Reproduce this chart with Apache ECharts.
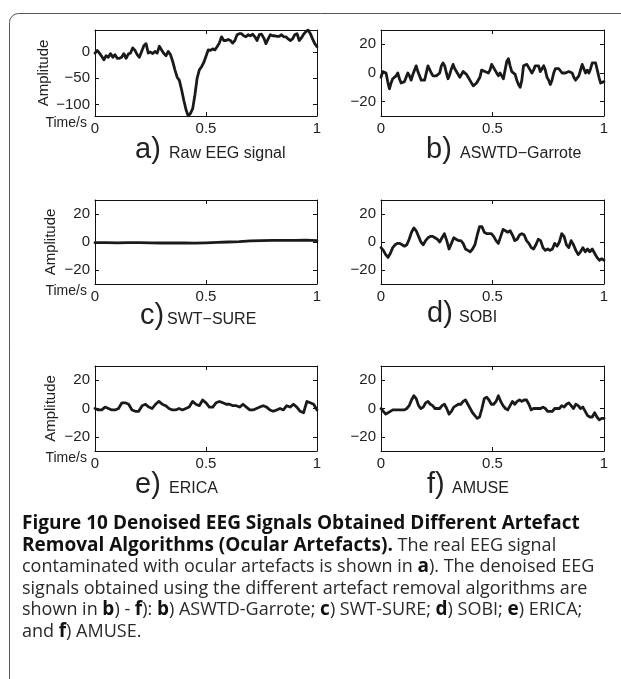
<!DOCTYPE html>
<html>
<head>
<meta charset="utf-8">
<script src="https://cdn.jsdelivr.net/npm/echarts@6/dist/echarts.min.js"></script>
<style>
  html, body { margin: 0; padding: 0; background: #ffffff; }
  #chart { width: 621px; height: 679px; }
</style>
</head>
<body>
<div id="chart"></div>
<script>
// ---- Signals (amplitude, one second, evenly sampled) ----
const rawEEG = [
  -2, 3, -2, -8, -15, -7, -10, -3, -10, -5,
  -12, -12, -10, -3, -12, -4, -2, 8, 3, -5,
  -10, 1, 12, 16, -2, 0, -3, 1, -2, 11,
  4, -3, -7, 1, -5, -18, -34, -48, -54, -72,
  -92, -110, -122, -117, -108, -82, -50, -34, -28, -20,
  -8, 4, 3, 6, 4, 10, 17, 29, 22, 22,
  24, 22, 17, 22, 33, 35, 35, 31, 29, 33,
  31, 34, 29, 22, 33, 34, 27, 16, 25, 33,
  31, 31, 30, 30, 33, 29, 29, 25, 22, 25,
  33, 35, 22, 27, 34, 39, 42, 35, 25, 16,
  10
];
const aswtdGarrote = [
  -3, 1, 2, 0, -6, -11, -7, -4, -5, -2,
  0, -4, -7, -6, -6, -5, 0, -2, -5, -1,
  2, 5, 1, -2, -5, -6, -5, 0, 5, 6,
  0, -2, -1, -2, -2, 0, 5, 7, 5, 0,
  -4, -1, 3, 6, 3, 1, 0, -3, -3, 1,
  2, -1, -3, -5, -6, -9, -9, -7, -7, -3,
  2, 3, 1, 0, 0, 2, 6, 7, 2, 0,
  -2, 0, -2, -4, 2, 8, 10, 5, 1, 2,
  -1, -5, -8, -10, -5, 5, 6, 6, 5, 2,
  0, 2, 5, 6, 5, 1, 3, 5, 2, -3,
  -5, -8, -5, 0, 3, 3, 3, 2, 0, 1,
  0, 0, 1, 2, 0, -3, -5, -5, -2, 2,
  6, 7, 0, 2, 0, 3, 7, 8, 7, 2,
  -3, -7, -7, -6
];
const swtSure = [
  -0.5, -0.5, -0.6, -0.5, -0.5, -0.6, -0.7, -0.6, -0.7, -0.8,
  -0.6, -0.3, 0, 0.3, 0.8, 1, 1.1, 1.2, 1.2, 1.3, 1.0
];
const sobi = [
  -4, -6, -9, -11, -8, -4, -2, -1, -1, -2,
  -3, -2, 2, 7, 10, 8, 4, 0, -2, 1,
  3, 4, 4, 3, 2, 0, 3, 6, 1, -5,
  -1, 3, 2, 1, 1, -1, -5, -6, -7, -5,
  -2, 5, 11, 11, 7, 6, 6, 6, 4, 1,
  -1, 4, 9, 8, 7, 8, 5, 1, 2, 5,
  6, 5, 1, -1, -4, -5, -2, 2, 1, -4,
  -6, -5, -6, -5, -1, -3, 0, 6, 4, -2,
  -4, 1, -2, -6, -9, -7, -4, -7, -5, -7,
  -5, -8, -11, -13, -12, -13
];
const erica = [
  0, -1, -1, 1, 0, -1, -1, 0, 4, 4,
  3, -1, -2, -2, 2, 3, 1, 0, 3, 5,
  3, 2, 0, -1, -1, 0, -1, 0, 1, 5,
  3, 2, 6, 4, 1, 1, 4, 5, 4, 3,
  3, 2, 2, 1, 3, 1, -1, -1, 0, 1,
  2, 1, -1, -2, -1, 0, -1, 2, 1, 3,
  1, -2, -3, 5, 4, 3, -1
];
const amuse = [
  0, -2, -4, -3, -2, -1, -1, -1, -1, -1,
  -1, 0, 2, 6, 9, 7, 2, 0, 1, 4,
  5, 3, 2, 0, 0, 0, 2, 3, 0, -4,
  -2, 1, 2, 3, 3, 5, 6, 3, 0, -3,
  -5, -7, -6, 0, 7, 8, 6, 3, 3, 5,
  9, 5, 2, 0, -1, 2, 5, 3, 5, 6,
  5, 6, 6, 3, -1, 0, 0, 0, 0, 1,
  0, -2, -2, -2, 0, 0, 0, 2, 1, 3,
  4, 2, 0, 3, 2, 0, 1, -2, -5, -6,
  -6, -3, -6, -8, -7, -7
];

// ---- Axis ticks ----
const timeTicks = [0, 0.5, 1];
const rawAmpTicks = [-100, -50, 0];
const ampTicks = [-20, 0, 20];

// ---- Panel captions ----
const panelTags = ['a)', 'b)', 'c)', 'd)', 'e)', 'f)'];
const panelNames = ['Raw EEG signal', 'ASWTD\u2212Garrote', 'SWT\u2212SURE', 'SOBI', 'ERICA', 'AMUSE'];

// ---- Figure caption lines (rich text) ----
const captionLines = [
  '{b|Figure 10 Denoised EEG Signals Obtained Different Artefact}',
  '{b|Removal Algorithms (Ocular Artefacts).} The real EEG signal',
  'contaminated with ocular artefacts is shown in {b|a}). The denoised EEG',
  'signals obtained using the different artefact removal algorithms are',
  'shown in {b|b}) - {b|f}): {b|b}) ASWTD-Garrote; {b|c}) SWT-SURE; {b|d}) SOBI; {b|e}) ERICA;',
  'and {b|f}) AMUSE.'
];

// ---- Layout ----
const AXIS_FONT = 'Liberation Sans';
const CAPTION_FONT = 'Open Sans';
const INK = '#1a1a1a';

const panels = [
  { values: rawEEG,       yMin: -122, yMax: 42, yTicks: rawAmpTicks, rect: { left: 95,  top: 30,  width: 222, height: 86 }, leftCol: true,  ampGap: 44, tagX: 135, nameX: 169, base: 158 },
  { values: aswtdGarrote, yMin: -30,  yMax: 30, yTicks: ampTicks,    rect: { left: 381, top: 30,  width: 223, height: 86 }, leftCol: false, tagX: 426, nameX: 460, base: 158 },
  { values: swtSure,      yMin: -30,  yMax: 30, yTicks: ampTicks,    rect: { left: 95,  top: 200, width: 222, height: 84 }, leftCol: true,  ampGap: 37, tagX: 140, nameX: 167, base: 324 },
  { values: sobi,         yMin: -30,  yMax: 30, yTicks: ampTicks,    rect: { left: 381, top: 200, width: 223, height: 84 }, leftCol: false, tagX: 427, nameX: 459, base: 322 },
  { values: erica,        yMin: -30,  yMax: 30, yTicks: ampTicks,    rect: { left: 95,  top: 366, width: 222, height: 85 }, leftCol: true,  ampGap: 37, tagX: 135, nameX: 169, base: 493 },
  { values: amuse,        yMin: -30,  yMax: 30, yTicks: ampTicks,    rect: { left: 381, top: 366, width: 223, height: 85 }, leftCol: false, tagX: 427, nameX: 452, base: 493 }
];

const minusFmt = v => (v < 0 ? '\u2212' + Math.abs(v) : String(v));
const lineCol = { show: true, onZero: false, lineStyle: { color: '#111', width: 1 } };
const tickIn = (vals) => ({ show: true, inside: true, length: 4, lineStyle: { color: '#111', width: 1 }, customValues: vals });

const grid = [], xAxis = [], yAxis = [], series = [], graphic = [];

// Outer frame with a rounded top-left corner
graphic.push({
  type: 'rect', silent: true,
  shape: { x: 9.5, y: 13.5, width: 800, height: 800, r: [9, 0, 0, 0] },
  style: { fill: 'none', stroke: '#555', lineWidth: 1 }
});

panels.forEach((p, k) => {
  grid.push(Object.assign({ containLabel: false }, p.rect));
  const xb = xAxis.length;
  xAxis.push({
    type: 'value', gridIndex: k, position: 'bottom', min: 0, max: 1,
    axisLine: lineCol, axisTick: tickIn(timeTicks), splitLine: { show: false },
    axisLabel: { customValues: timeTicks, margin: 5, fontFamily: AXIS_FONT, fontSize: 15, color: '#222', showMinLabel: true, showMaxLabel: true },
    name: p.leftCol ? 'Time/s' : '', nameLocation: 'start', nameGap: 7,
    nameTextStyle: { fontFamily: AXIS_FONT, fontSize: 14, color: '#222', verticalAlign: 'top', align: 'right' }
  });
  xAxis.push({
    type: 'value', gridIndex: k, position: 'top', min: 0, max: 1,
    axisLine: lineCol, axisTick: tickIn(timeTicks), axisLabel: { show: false }, splitLine: { show: false }
  });
  const yl = yAxis.length;
  yAxis.push({
    type: 'value', gridIndex: k, position: 'left', min: p.yMin, max: p.yMax,
    axisLine: lineCol, axisTick: tickIn(p.yTicks), splitLine: { show: false },
    axisLabel: { customValues: p.yTicks, margin: 5, formatter: minusFmt, fontFamily: AXIS_FONT, fontSize: 15, color: '#222' },
    name: p.leftCol ? 'Amplitude' : '', nameLocation: 'middle', nameGap: p.ampGap || 40, nameRotate: 90,
    nameTextStyle: { fontFamily: AXIS_FONT, fontSize: 15, color: '#222' }
  });
  yAxis.push({
    type: 'value', gridIndex: k, position: 'right', min: p.yMin, max: p.yMax,
    axisLine: lineCol, axisTick: tickIn(p.yTicks), axisLabel: { show: false }, splitLine: { show: false }
  });
  const n = p.values.length;
  series.push({
    type: 'line', xAxisIndex: xb, yAxisIndex: yl, showSymbol: false, symbol: 'none',
    silent: true, animation: false, clip: true,
    lineStyle: { color: INK, width: 2.8, join: 'round', cap: 'round' },
    data: p.values.map((v, i) => [i / (n - 1), v])
  });

  // Panel caption: large tag letter + method name sharing one baseline
  graphic.push({
    type: 'text', silent: true, x: p.tagX, y: p.base + 6.5,
    style: { text: panelTags[k], font: '29px "' + AXIS_FONT + '"', fill: '#222', verticalAlign: 'bottom' }
  });
  graphic.push({
    type: 'text', silent: true, x: p.nameX, y: p.base + 4,
    style: { text: panelNames[k], font: '16px "' + AXIS_FONT + '"', fill: '#222', verticalAlign: 'bottom' }
  });
});

// Figure caption
captionLines.forEach((line, i) => {
  graphic.push({
    type: 'text', silent: true, x: 22, y: 524 + i * 21.5,
    style: {
      text: line, fill: '#2a2a2a', verticalAlign: 'middle',
      font: '18px "' + CAPTION_FONT + '"',
      rich: { b: { fontFamily: CAPTION_FONT, fontSize: 19, fontWeight: 'bold', fill: '#111' } }
    }
  });
});

const chart = echarts.init(document.getElementById('chart'), null, { renderer: 'canvas' });
chart.setOption({
  animation: false,
  backgroundColor: '#ffffff',
  grid, xAxis, yAxis, series, graphic
});
</script>
</body>
</html>
